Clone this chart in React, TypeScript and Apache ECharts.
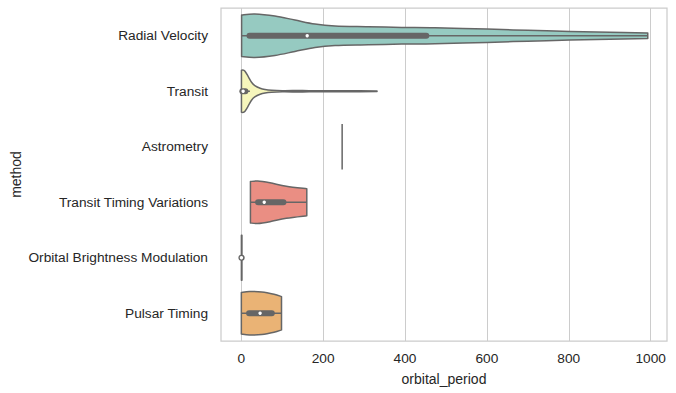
import React, { useEffect, useRef } from "react";
import * as echarts from "echarts";

const METHODS = [
  "Radial Velocity",
  "Transit",
  "Astrometry",
  "Transit Timing Variations",
  "Orbital Brightness Modulation",
  "Pulsar Timing",
];

const X_TICKS = [0, 200, 400, 600, 800, 1000];

const FILL_COLORS = ["#96cac1", "#f6f6bc", "#bfbcd5", "#ea8e83", "#8db0ca", "#eab375"];

// density outlines: [orbital_period, half width as share of the category band]
const RV_DENSITY = [
  [0.74, 0.373], [33, 0.391], [82, 0.355], [131, 0.283], [180, 0.211], [229, 0.175],
  [310, 0.162], [392, 0.15], [473, 0.144], [600, 0.12], [700, 0.097], [803, 0.078],
  [900, 0.062], [993, 0.049],
];
const TRANSIT_DENSITY = [
  [0.36, 0.38], [5, 0.38], [9, 0.36], [17, 0.265], [25, 0.162], [33, 0.103], [46, 0.054],
  [58, 0.031], [74, 0.018], [100, 0.011], [150, 0.012], [200, 0.008], [270, 0.009], [331.6, 0.006],
];
const ASTROMETRY_DENSITY = [[246.36, 0.41]];
const TTV_DENSITY = [[22.3, 0.373], [40, 0.384], [70, 0.351], [110, 0.288], [160, 0.243]];
const OBM_DENSITY = [[0.24, 0.405], [1.54, 0.405]];
const PULSAR_DENSITY = [[0.09, 0.375], [20, 0.392], [50, 0.385], [80, 0.342], [98.2, 0.3]];

const DENSITIES = [RV_DENSITY, TRANSIT_DENSITY, ASTROMETRY_DENSITY, TTV_DENSITY, OBM_DENSITY, PULSAR_DENSITY];

// inner box statistics
const WHISKER_LO = [0.74, 0.36, 246.36, 22.3, 0.24, 0.09];
const Q1 = [20, 2.6, 246.36, 41, 0.29, 19];
const MEDIAN = [161, 4.5, 246.36, 56, 0.34, 45.9];
const Q3 = [452, 10, 246.36, 103, 0.94, 74.5];
const WHISKER_HI = [993, 21, 246.36, 160, 1.54, 98.2];

const GRAY = "#666666";
const TEXT = "#262626";
const FONT = "'Liberation Sans', Arial, sans-serif";

function curve(pts: number[][]): string {
  let d = "";
  for (let i = 0; i < pts.length - 1; i++) {
    const p0 = pts[Math.max(0, i - 1)];
    const p1 = pts[i];
    const p2 = pts[i + 1];
    const p3 = pts[Math.min(pts.length - 1, i + 2)];
    const c1x = p1[0] + (p2[0] - p0[0]) / 6;
    const c1y = p1[1] + (p2[1] - p0[1]) / 6;
    const c2x = p2[0] - (p3[0] - p1[0]) / 6;
    const c2y = p2[1] - (p3[1] - p1[1]) / 6;
    d += ` C${c1x.toFixed(2)},${c1y.toFixed(2)} ${c2x.toFixed(2)},${c2y.toFixed(2)} ${p2[0].toFixed(2)},${p2[1].toFixed(2)}`;
  }
  return d;
}

export default function App() {
  const ref = useRef<HTMLDivElement>(null);
  useEffect(() => {
    if (!ref.current) return;
    const chart = echarts.init(ref.current, undefined, { renderer: "svg" });
    const data = METHODS.map((_, i) => [WHISKER_LO[i], WHISKER_HI[i], i]);
    chart.setOption({
      animation: false,
      backgroundColor: "#ffffff",
      grid: {
        left: 221,
        right: 9,
        top: 8,
        bottom: 52,
        show: true,
        borderColor: "#cccccc",
        borderWidth: 1.25,
        containLabel: false,
        outerBoundsMode: "none",
      },
      xAxis: {
        type: "value",
        min: -49.6,
        max: 1040,
        name: "orbital_period",
        nameLocation: "middle",
        nameGap: 31,
        nameMoveOverlap: false,
        nameTextStyle: { fontSize: 14, color: TEXT, fontFamily: FONT },
        axisLine: { show: false },
        axisTick: { show: false, customValues: X_TICKS },
        axisLabel: {
          customValues: X_TICKS,
          fontSize: 13.7,
          color: TEXT,
          fontFamily: FONT,
          margin: 10,
          formatter: (v: number) => String(v),
        },
        splitLine: { show: true, lineStyle: { color: "#cccccc", width: 1 } },
      },
      yAxis: {
        type: "category",
        data: METHODS,
        inverse: true,
        name: "method",
        nameLocation: "middle",
        nameRotate: 90,
        nameGap: 198,
        nameMoveOverlap: false,
        nameTextStyle: { fontSize: 14, color: TEXT, fontFamily: FONT },
        axisLine: { show: false },
        axisTick: { show: false },
        axisLabel: { fontSize: 13.7, color: TEXT, fontFamily: FONT, margin: 13 },
        splitLine: { show: false },
      },
      series: [
        {
          type: "custom",
          data,
          encode: { x: [0, 1], y: 2 },
          renderItem: (params: any, api: any) => {
            const i = api.value(2);
            const cy = api.coord([0, i])[1];
            const band = api.size([0, 1])[1];
            const dens = DENSITIES[i];
            const children: any[] = [];
            if (dens.length === 1) {
              const x = api.coord([dens[0][0], i])[0];
              children.push({
                type: "line",
                shape: { x1: x, y1: cy - dens[0][1] * band, x2: x, y2: cy + dens[0][1] * band },
                style: { stroke: GRAY, lineWidth: 1.5 },
              });
              return { type: "group", children };
            }
            const top = dens.map(([v, w]) => [api.coord([v, i])[0], cy - w * band]);
            const bot = dens.map(([v, w]) => [api.coord([v, i])[0], cy + w * band]).reverse();
            const pathData =
              `M${top[0][0].toFixed(2)},${top[0][1].toFixed(2)}` +
              curve(top) +
              ` L${bot[0][0].toFixed(2)},${bot[0][1].toFixed(2)}` +
              curve(bot) +
              " Z";
            children.push({
              type: "path",
              shape: { pathData },
              style: { fill: FILL_COLORS[i], stroke: GRAY, lineWidth: 1.5, lineJoin: "round" },
            });
            const xlo = api.coord([WHISKER_LO[i], i])[0];
            const xhi = api.coord([WHISKER_HI[i], i])[0];
            const xq1 = api.coord([Q1[i], i])[0];
            const xq3 = api.coord([Q3[i], i])[0];
            const xm = api.coord([MEDIAN[i], i])[0];
            children.push({
              type: "line",
              shape: { x1: xlo, y1: cy, x2: xhi, y2: cy },
              style: { stroke: GRAY, lineWidth: 1.5 },
            });
            children.push({
              type: "line",
              shape: { x1: xq1, y1: cy, x2: xq3, y2: cy },
              style: { stroke: GRAY, lineWidth: 6, lineCap: "round" },
            });
            children.push({
              type: "circle",
              shape: { cx: xm, cy, r: 1.7 },
              style: { fill: "#ffffff" },
            });
            return { type: "group", children };
          },
        },
      ],
    });
    return () => chart.dispose();
  }, []);
  return (
    <div
      ref={ref}
      style={{ position: "absolute", left: 0, top: 0, width: 676, height: 393 }}
    />
  );
}
